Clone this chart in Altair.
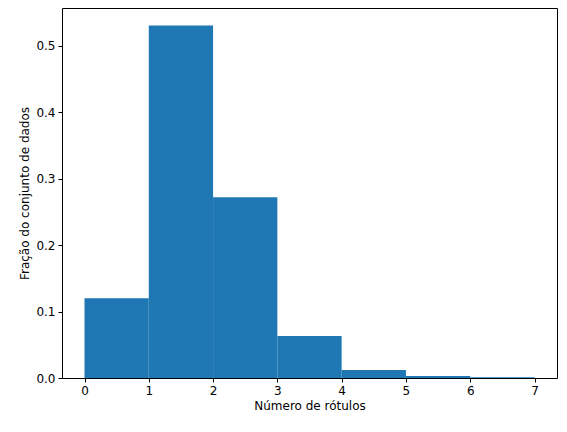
import altair as alt
import pandas as pd

bin_start = [0, 1, 2, 3, 4, 5, 6]
bin_end = [1, 2, 3, 4, 5, 6, 7]
fraction = [0.12, 0.53, 0.272, 0.063, 0.012, 0.003, 0.001]

df = pd.DataFrame({"start": bin_start, "end": bin_end, "frac": fraction})

chart = alt.Chart(df).mark_bar(color="#1f77b4", binSpacing=0).encode(
    x=alt.X("start:Q", scale=alt.Scale(domain=[-0.35, 7.35], nice=False, zero=False),
            axis=alt.Axis(values=list(range(8)), title="Número de rótulos", format="d")),
    x2="end:Q",
    y=alt.Y("frac:Q", scale=alt.Scale(domain=[0, 0.5565], nice=False),
            axis=alt.Axis(values=[0, 0.1, 0.2, 0.3, 0.4, 0.5], format=".1f",
                          title="Fração do conjunto de dados")),
    y2=alt.datum(0),
).properties(
    width=495, height=370, autosize=alt.AutoSizeParams(type="none"),
    padding={"left": 54, "top": 0, "right": 2, "bottom": 46},
).configure_view(stroke="black", strokeWidth=1).configure_axis(
    grid=False, domain=False, tickColor="black", tickSize=4, labelColor="black",
    titleColor="black", labelFont="DejaVu Sans", titleFont="DejaVu Sans",
    labelFontSize=12, titleFontSize=12, titleFontWeight="normal", labelPadding=3,
)

chart.save("out.html", embed_options={"renderer": "svg", "actions": False})
